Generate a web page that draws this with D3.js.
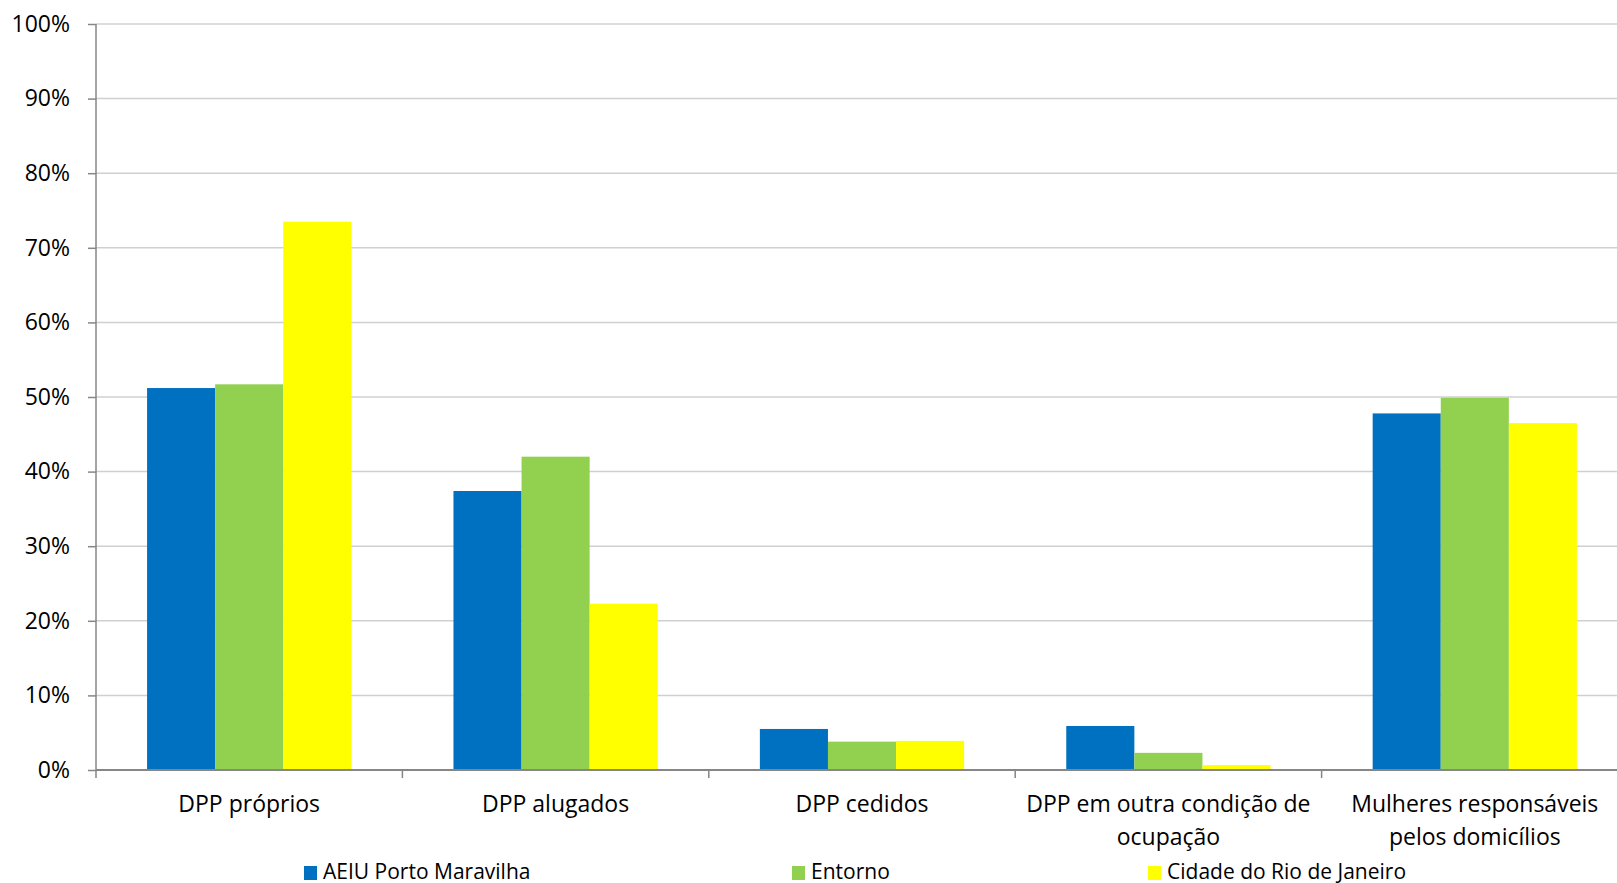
<!DOCTYPE html>
<html>
<head>
<meta charset="utf-8">
<script src="https://cdn.jsdelivr.net/npm/d3@7"></script>
<style>
  body { margin: 0; background: #fff; }
  svg text { font-family: "Open Sans", sans-serif; fill: #000; }
</style>
</head>
<body>
<div id="chart"></div>
<script>
// categories and series (share of households, %)
var categories = ["DPP próprios", "DPP alugados", "DPP cedidos", "DPP em outra condição de ocupação", "Mulheres responsáveis pelos domicílios"];
var categoryLines = [["DPP próprios"], ["DPP alugados"], ["DPP cedidos"], ["DPP em outra condição de", "ocupação"], ["Mulheres responsáveis", "pelos domicílios"]];
var seriesNames = ["AEIU Porto Maravilha", "Entorno", "Cidade do Rio de Janeiro"];
var aeiuValues = [51.2, 37.4, 5.5, 5.9, 47.8];
var entornoValues = [51.7, 42.0, 3.8, 2.3, 49.9];
var cidadeValues = [73.5, 22.3, 3.9, 0.65, 46.5];
var yTicks = [0, 10, 20, 30, 40, 50, 60, 70, 80, 90, 100];
var colors = ["#0070c0", "#92d050", "#ffff00"];

var width = 1617,
  height = 883,
  margin = {top: 24, right: -11, bottom: 113, left: 96},
  innerW = width - margin.left - margin.right,
  innerH = height - margin.top - margin.bottom;

var allSeries = [aeiuValues, entornoValues, cidadeValues];
var rows = categories.map(function(c, i) {
  return {cat: c, lines: categoryLines[i], values: seriesNames.map(function(s, j) { return {name: s, value: allSeries[j][i], idx: j}; })};
});

var svg = d3.select("#chart").append("svg")
  .attr("width", width)
  .attr("height", height)
  .append("g")
  .attr("transform", "translate(" + margin.left + "," + margin.top + ")");

var x = d3.scaleBand().domain(categories).range([0, innerW]).padding(0);
var xs = d3.scaleBand().domain(seriesNames).range([0, x.bandwidth()]).paddingInner(0).paddingOuter(0.75);
var y = d3.scaleLinear().domain([0, 100]).range([innerH, 0]);

// gridlines
svg.append("g").selectAll("line")
  .data(yTicks.filter(function(t) { return t > 0; }))
  .enter().append("line")
  .attr("x1", 0).attr("x2", innerW)
  .attr("y1", function(d) { return y(d); })
  .attr("y2", function(d) { return y(d); })
  .attr("stroke", "#d0d0d0")
  .attr("stroke-width", 1.5);

// bars
var groups = svg.selectAll(".grp")
  .data(rows)
  .enter().append("g")
  .attr("transform", function(d) { return "translate(" + x(d.cat) + ",0)"; });

groups.selectAll("rect")
  .data(function(d) { return d.values; })
  .enter().append("rect")
  .attr("x", function(d) { return xs(d.name); })
  .attr("width", xs.bandwidth())
  .attr("y", function(d) { return y(d.value); })
  .attr("height", function(d) { return innerH - y(d.value); })
  .attr("fill", function(d) { return colors[d.idx]; });

// y axis
var yAxis = d3.axisLeft(y)
  .tickValues(yTicks)
  .tickSize(8)
  .tickPadding(18)
  .tickFormat(function(d) { return d + "%"; });
var gy = svg.append("g").call(yAxis);
gy.select(".domain").remove();
gy.selectAll(".tick line").attr("stroke", "#868686").attr("stroke-width", 1.5);
gy.selectAll("text").style("font-size", "23px");
svg.append("line")
  .attr("x1", 0).attr("x2", 0)
  .attr("y1", 0).attr("y2", innerH + 8)
  .attr("stroke", "#868686").attr("stroke-width", 1.5);

// x axis line and category boundary ticks
svg.append("line")
  .attr("x1", 0).attr("x2", innerW)
  .attr("y1", innerH).attr("y2", innerH)
  .attr("stroke", "#868686").attr("stroke-width", 2);
svg.append("g").selectAll("line")
  .data(categories.slice(1))
  .enter().append("line")
  .attr("x1", function(d) { return x(d); })
  .attr("x2", function(d) { return x(d); })
  .attr("y1", innerH).attr("y2", innerH + 8)
  .attr("stroke", "#868686").attr("stroke-width", 1.5);

// category labels
var labels = svg.append("g").selectAll("text")
  .data(rows)
  .enter().append("text")
  .attr("text-anchor", "middle")
  .attr("x", function(d) { return x(d.cat) + x.bandwidth() / 2; })
  .attr("y", innerH + 42)
  .style("font-size", "23px");
labels.selectAll("tspan")
  .data(function(d) { return d.lines.map(function(l) { return {line: l, cx: x(d.cat) + x.bandwidth() / 2}; }); })
  .enter().append("tspan")
  .attr("x", function(d) { return d.cx; })
  .attr("dy", function(d, i) { return i === 0 ? 0 : 33; })
  .text(function(d) { return d.line; });

// legend
var legendX = [208, 696, 1052];
var legend = svg.append("g").selectAll("g")
  .data(seriesNames)
  .enter().append("g")
  .attr("transform", function(d, i) { return "translate(" + legendX[i] + "," + (innerH + 96) + ")"; });
legend.append("rect")
  .attr("width", 13).attr("height", 14)
  .attr("fill", function(d, i) { return colors[i]; });
legend.append("text")
  .attr("x", 19)
  .attr("y", 13)
  .style("font-size", "21px")
  .text(function(d) { return d; });
</script>
</body>
</html>
